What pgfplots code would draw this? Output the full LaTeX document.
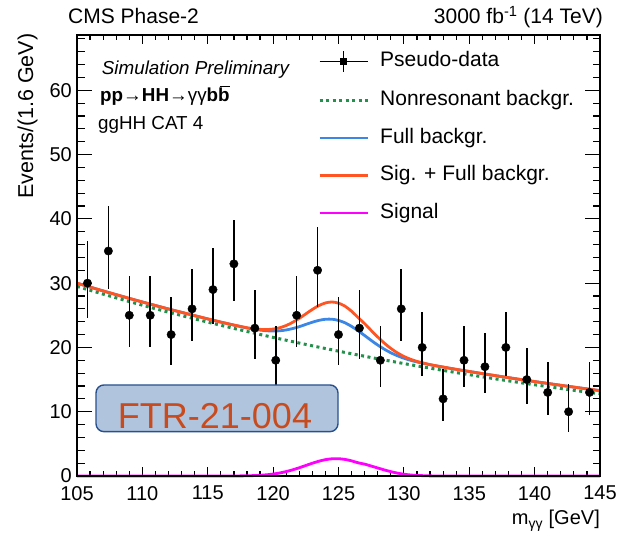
\documentclass[border=0pt]{standalone}
\usepackage{pgfplots}
\pgfplotsset{compat=1.18}
\usepackage{pgfplotstable}
\usepackage{fontspec}
\setmainfont{Liberation Sans}
\definecolor{cgreen}{RGB}{35,145,75}
\definecolor{cblue}{RGB}{60,135,230}
\definecolor{cred}{RGB}{255,85,35}
\definecolor{cmag}{RGB}{255,0,255}
\definecolor{boxfill}{RGB}{176,196,222}
\definecolor{boxdraw}{RGB}{40,80,140}
\definecolor{boxtext}{RGB}{200,75,30}

\pgfplotstableread{
x y ep em
105.8 30 6.545 5.454
107.4 35 6.979 5.895
109.0 25 6.074 4.975
110.6 25 6.074 4.975
112.2 22 5.770 4.664
113.8 26 6.172 5.074
115.4 29 6.454 5.362
117.0 33 6.809 5.723
118.6 23 5.873 4.770
120.2 18 5.330 4.213
121.8 25 6.074 4.975
123.4 32 6.723 5.635
125.0 22 5.770 4.664
126.6 23 5.873 4.770
128.2 18 5.330 4.213
129.8 26 6.172 5.074
131.4 20 5.555 4.444
133.0 12 4.571 3.428
134.6 18 5.330 4.213
136.2 17 5.213 4.093
137.8 20 5.555 4.444
139.4 15 4.969 3.841
141.0 13 4.708 3.571
142.6 10 4.279 3.122
144.2 13 4.708 3.571
}\datatable

\pgfplotstableread{
x g B R S
105 29.50 30.00 30.00 0
106 28.89 29.39 29.39 0
107 28.29 28.79 28.79 0
108 27.71 28.21 28.21 0
109 27.13 27.63 27.63 0
110 26.57 27.07 27.07 0
111 26.02 26.52 26.52 0
112 25.48 25.98 25.98 0
113 24.96 25.46 25.46 0
114 24.44 24.94 24.94 0
115 23.94 24.44 24.44 0
116 23.44 23.94 23.94 0.002
116.5 23.20 23.71 23.71 0.004
117 22.96 23.47 23.48 0.009
117.5 22.72 23.25 23.27 0.017
118 22.48 23.03 23.06 0.034
118.5 22.25 22.85 22.91 0.063
119 22.02 22.70 22.81 0.112
119.5 21.79 22.59 22.78 0.190
120 21.56 22.55 22.86 0.306
120.5 21.34 22.59 23.06 0.470
121 21.12 22.72 23.41 0.690
121.5 20.90 22.94 23.91 0.965
122 20.68 23.23 24.52 1.287
122.5 20.47 23.58 25.22 1.638
123 20.25 23.92 25.91 1.988
123.5 20.04 24.21 26.51 2.301
124 19.83 24.38 26.92 2.542
124.5 19.63 24.39 27.07 2.677
125 19.42 24.20 26.89 2.690
125.5 19.22 23.83 26.41 2.578
126 19.02 23.27 25.63 2.356
126.5 18.82 22.59 24.64 2.054
127 18.63 21.85 23.70 1.850
127.5 18.43 21.09 22.64 1.550
128 18.24 20.37 21.62 1.250
128.5 18.05 19.73 20.68 0.950
129 17.86 19.17 19.85 0.680
129.5 17.68 18.71 19.16 0.450
130 17.49 18.32 18.60 0.280
130.5 17.31 18.01 18.17 0.160
131 17.13 17.74 17.83 0.090
132 16.78 17.31 17.33 0.020
133 16.43 16.94 16.95 0.005
134 16.09 16.59 16.59 0.001
135 15.76 16.26 16.26 0
136 15.43 15.93 15.93 0
137 15.11 15.61 15.61 0
138 14.80 15.30 15.30 0
139 14.49 14.99 14.99 0
140 14.19 14.69 14.69 0
141 13.90 14.40 14.40 0
142 13.61 14.11 14.11 0
143 13.33 13.83 13.83 0
144 13.05 13.55 13.55 0
145 12.78 13.28 13.28 0
}\curvetable

\begin{document}
\begin{tikzpicture}
\begin{axis}[
  name=ax,
  scale only axis,
  width=523pt, height=441pt,
  xmin=105, xmax=145, ymin=0, ymax=68.6,
  clip=false,
  axis line style={line width=1.8pt, black},
  tick align=inside,
  xtick distance=5, minor x tick num=4,
  ytick distance=10, minor y tick num=4,
  major tick length=15pt, minor tick length=7.5pt,
  xtick style={/pgfplots/major tick length=9.5pt, /pgfplots/minor tick length=5pt},
  tick style={line width=1.2pt, black},
  /pgf/number format/assume math mode=true,
  tick label style={font=\fontsize{20}{24}\selectfont, inner sep=0pt},
  xticklabel style={yshift=-10pt},
  yticklabel style={xshift=-5pt},
  legend style={at={(rel axis cs:0.4608,0.9660)}, anchor=north west, draw=none, fill=none,
    font=\fontsize{21}{25}\selectfont, inner sep=0pt, row sep=18pt,
    nodes={inner sep=0pt, text height=15pt, text depth=4.5pt},
    /tikz/every odd column/.append style={column sep=11pt}},
  legend cell align=left,
  legend image code/.code={\draw[#1] (0pt,0pt) -- (48pt,0pt);},
]
\addlegendimage{legend image code/.code={\path (0pt,0pt) -- (48pt,0pt); \draw[black, line width=1.5pt] (23.7pt,-10.5pt) -- (23.7pt,10.5pt); \fill[black] (20.7pt,-3pt) rectangle (26.7pt,3pt);}}
\addlegendentry{Pseudo-data}
\addlegendimage{cgreen, line width=3pt, dash pattern=on 3pt off 3.5pt}
\addlegendentry{Nonresonant backgr.}
\addlegendimage{cblue, line width=2.8pt}
\addlegendentry{Full backgr.}
\addlegendimage{cred, line width=2.8pt}
\addlegendentry{Sig. + Full backgr.}
\addlegendimage{cmag, line width=2.8pt}
\addlegendentry{Signal}

\addplot[forget plot, cgreen, line width=3pt, dash pattern=on 3pt off 3.5pt, smooth] table[x=x, y=g] {\curvetable};
\addplot[forget plot, cblue, line width=2.8pt, smooth] table[x=x, y=B] {\curvetable};
\addplot[forget plot, cred, line width=2.8pt, smooth] table[x=x, y=R] {\curvetable};
\addplot[forget plot, cmag, line width=2.8pt, smooth] table[x=x, y=S] {\curvetable};
\addplot[forget plot, only marks, mark=*, mark size=4.2pt, black,
  error bars/.cd, y dir=both, y explicit, error mark=none,
  error bar style={line width=1.6pt, black}]
  table[x=x, y=y, y error plus=ep, y error minus=em] {\datatable};

\draw[black, line width=1.8pt] (rel axis cs:0,0) rectangle (rel axis cs:1,1);

\node[draw=boxdraw, line width=1.4pt, fill=boxfill, rounded corners=8pt, minimum width=242pt, minimum height=46.7pt, inner sep=0pt] at (rel axis cs:0.2677,0.1535) {};
\node[anchor=base, inner sep=0pt, text=boxtext, font=\fontsize{36}{40}\selectfont] at (rel axis cs:0.2639,0.1066) {FTR-21-004};

\node[anchor=base west, inner sep=0pt, font=\fontsize{18.8}{22}\selectfont\itshape] at (rel axis cs:0.0473,0.9093) {Simulation Preliminary};
\node[anchor=base west, inner sep=0pt, font=\fontsize{18.8}{22}\selectfont] at (rel axis cs:0.044,0.8488) {\textbf{pp}→\textbf{HH}→γγ\textbf{bb}\llap{\rule[14.5pt]{10pt}{1.2pt}}};
\node[anchor=base west, inner sep=0pt, font=\fontsize{18.8}{22}\selectfont] at (rel axis cs:0.0402,0.7846) {ggHH CAT 4};

\node[anchor=base west, inner sep=0pt, font=\fontsize{21}{25}\selectfont] at (rel axis cs:-0.0172,1.0256) {CMS Phase-2};
\node[anchor=base east, inner sep=0pt, font=\fontsize{21}{25}\selectfont] at (rel axis cs:1.0057,1.0256) {3000 fb\textsuperscript{-1} (14 TeV)};
\node[anchor=base east, inner sep=0pt, font=\fontsize{20}{24}\selectfont] at (rel axis cs:1.0,-0.1111) {m\textsubscript{γγ} [GeV]};
\node[anchor=base east, rotate=90, inner sep=0pt, font=\fontsize{21.5}{25}\selectfont] at (rel axis cs:-0.0841,1.0034) {Events/(1.6 GeV)};
\end{axis}
\pgfresetboundingbox
\path ([xshift=-77pt,yshift=-59pt]ax.south west) rectangle ([xshift=25pt,yshift=35pt]ax.north east);
\end{tikzpicture}
\end{document}
